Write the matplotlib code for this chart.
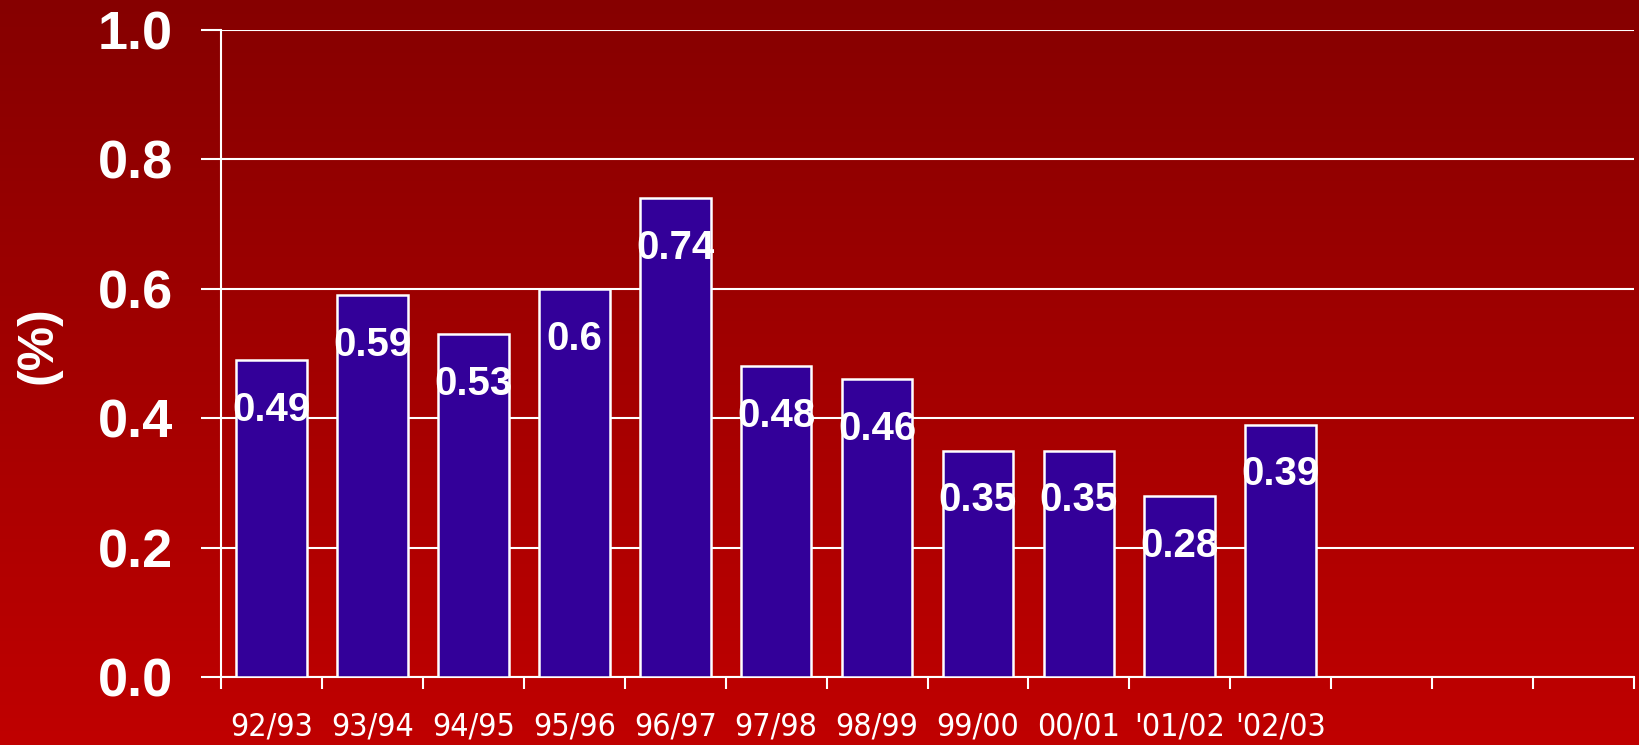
import matplotlib
matplotlib.use("Agg")
import matplotlib.pyplot as plt
import numpy as np
from matplotlib.colors import LinearSegmentedColormap

# data
seasons = ['92/93', '93/94', '94/95', '95/96', '96/97', '97/98', '98/99',
           '99/00', '00/01', "'01/02", "'02/03"]
values = [0.49, 0.59, 0.53, 0.6, 0.74, 0.48, 0.46, 0.35, 0.35, 0.28, 0.39]
n_slots = 14  # axis has room for 3 more seasons
y_ticks = [0.0, 0.2, 0.4, 0.6, 0.8, 1.0]

bold_font = ['Liberation Sans', 'DejaVu Sans']

fig = plt.figure(figsize=(16.4, 7.45), dpi=100)

# red vertical gradient background
bg = fig.add_axes([0, 0, 1, 1], zorder=-1)
cmap = LinearSegmentedColormap.from_list('bg', ['#860000', '#c00000'])
grad = np.linspace(0, 1, 256).reshape(-1, 1)
bg.imshow(grad, aspect='auto', cmap=cmap, extent=[0, 1, 0, 1], origin='upper')
bg.axis('off')

ax = fig.add_axes([0.1348, 0.0913, 0.8615, 0.8684])
ax.patch.set_alpha(0)

x = np.arange(len(values)) + 0.5
ax.bar(x, values, width=0.7, color='#330099', edgecolor='white', linewidth=1.8, zorder=3)

# value labels sit just inside the top of each bar
for xi, v in zip(x, values):
    ax.text(xi, v - 0.077, f'{v:g}', ha='center', va='center', color='white',
            fontsize=29, fontweight='bold', family=bold_font, zorder=4)

ax.set_xlim(0, n_slots)
ax.set_ylim(0, 1.0)

# y axis
ax.set_yticks(y_ticks)
ax.set_yticklabels([f'{t:.1f}' for t in y_ticks])
ax.yaxis.grid(True, color='white', linewidth=1.5, zorder=0)
ax.tick_params(axis='y', colors='white', length=14.5, width=1.5, pad=20)
for lbl in ax.get_yticklabels():
    lbl.set_fontsize(39)
    lbl.set_fontweight('bold')
    lbl.set_family(bold_font)

# x axis: ticks at slot boundaries, labels centred under bars
ax.set_xticks(np.arange(n_slots + 1))
ax.set_xticklabels([])
ax.set_xticks(x, minor=True)
ax.set_xticklabels(seasons, minor=True, color='white', fontsize=23,
                   family=['DejaVu Sans', 'Liberation Sans'], fontstretch='condensed')
ax.tick_params(axis='x', which='major', colors='white', length=8.5, width=1.5)
ax.tick_params(axis='x', which='minor', length=0, pad=25)

for side in ['top', 'right']:
    ax.spines[side].set_visible(False)
for side in ['left', 'bottom']:
    ax.spines[side].set_color('white')
    ax.spines[side].set_linewidth(1.5)

fig.text(0.0232, 0.537, '(%)', rotation=90, ha='center', va='center', color='white',
         fontsize=36, fontweight='bold', family=bold_font)

fig.savefig('out.png', dpi=100)
